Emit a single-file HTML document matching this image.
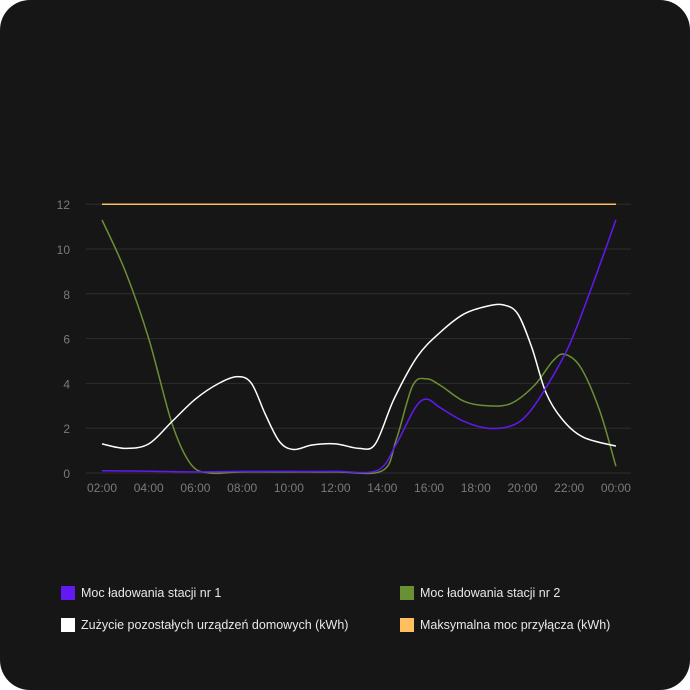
<!DOCTYPE html>
<html><head><meta charset="utf-8"><style>
html,body{margin:0;padding:0;background:#fff;}
.card{position:absolute;left:0;top:0;width:690px;height:690px;background:#161616;border-radius:30px;overflow:hidden;}
svg{position:absolute;left:0;top:0;}
.lg{position:absolute;font-family:"Liberation Sans","Noto Sans CJK JP",sans-serif;font-size:12.5px;color:#e8e8e8;white-space:nowrap;}
.lg i{position:absolute;left:0;top:0;width:14px;height:14px;}
.lg span{position:absolute;left:20px;top:0;line-height:14px;}
</style></head><body>
<div class="card">
<svg id="c" width="690" height="690" font-family="Liberation Sans, sans-serif" font-size="12" fill="#7a7a7a"></svg>
<div class="lg" style="left:61px;top:586px"><i style="background:#6219f2"></i><span>Moc ładowania stacji nr 1</span></div>
<div class="lg" style="left:400px;top:586px"><i style="background:#6b8f35"></i><span>Moc ładowania stacji nr 2</span></div>
<div class="lg" style="left:61px;top:618px"><i style="background:#fff"></i><span>Zużycie pozostałych urządzeń domowych (kWh)</span></div>
<div class="lg" style="left:400px;top:618px"><i style="background:#ffbf5e"></i><span>Maksymalna moc przyłącza (kWh)</span></div>
</div>
<script>
const s=document.getElementById('c');let h='';
const X=t=>102+(t-2)*23.36, Y=v=>473-22.4*v;
for(let v=0;v<=12;v+=2){h+=`<line x1="86" x2="631" y1="${Y(v)}" y2="${Y(v)}" stroke="#2e2e2e"/>`;h+=`<text x="70" y="${Y(v)+5}" text-anchor="end">${v}</text>`;}
const lab=['02:00','04:00','06:00','08:00','10:00','12:00','14:00','16:00','18:00','20:00','22:00','00:00'];
lab.forEach((l,i)=>h+=`<text x="${X(2+2*i)}" y="492" text-anchor="middle">${l}</text>`);
function path(pts){const p=pts.map(a=>[X(a[0]),Y(a[1])]);let d=`M${p[0][0]},${p[0][1]}`;
for(let i=0;i<p.length-1;i++){const p0=p[i-1]||p[i],p1=p[i],p2=p[i+1],p3=p[i+2]||p2;
const c1=[p1[0]+(p2[0]-p0[0])/6,p1[1]+(p2[1]-p0[1])/6],c2=[p2[0]-(p3[0]-p1[0])/6,p2[1]-(p3[1]-p1[1])/6];
d+=`C${c1[0]},${c1[1]} ${c2[0]},${c2[1]} ${p2[0]},${p2[1]}`;}return d;}
const W=[[2,1.3],[3,1.1],[4,1.3],[5,2.3],[6,3.3],[7,4.0],[7.8,4.3],[8.4,4.0],[9,2.6],[9.6,1.4],[10.2,1.05],[11,1.25],[12,1.3],[13,1.1],[13.7,1.3],[14.5,3.3],[15.5,5.2],[16.5,6.3],[17.5,7.1],[18.5,7.45],[19.2,7.5],[19.8,7.1],[20.4,5.6],[21,3.6],[21.7,2.4],[22.6,1.6],[24,1.2]];
const G=[[2,11.3],[3,9],[4,6],[5,2.2],[5.8,0.4],[6.6,0],[8,0.05],[10,0.05],[12,0.05],[14,0.1],[14.6,1.5],[15.3,3.9],[15.9,4.2],[16.5,3.9],[17.5,3.2],[18.5,3.0],[19.5,3.1],[20.5,3.9],[21.3,5.0],[21.8,5.3],[22.5,4.7],[23.3,2.8],[24,0.3]];
const P=[[2,0.1],[4,0.08],[6,0.05],[8,0.07],[10,0.07],[12,0.07],[13.8,0.12],[14.6,1.3],[15.4,2.9],[15.9,3.3],[16.5,2.9],[17.5,2.3],[18.5,2.0],[19.5,2.1],[20.2,2.6],[21,3.8],[22,5.7],[23,8.4],[24,11.3]];
h+=`<line x1="102" x2="616" y1="${Y(12)}" y2="${Y(12)}" stroke="#ffbf5e" stroke-width="1.5"/>`;
h+=`<path d="${path(G)}" fill="none" stroke="#6b8f35" stroke-width="1.5"/>`;
h+=`<path d="${path(W)}" fill="none" stroke="#fff" stroke-width="1.5"/>`;
h+=`<path d="${path(P)}" fill="none" stroke="#6219f2" stroke-width="1.5"/>`;
s.innerHTML=h;
</script>
</body></html>
